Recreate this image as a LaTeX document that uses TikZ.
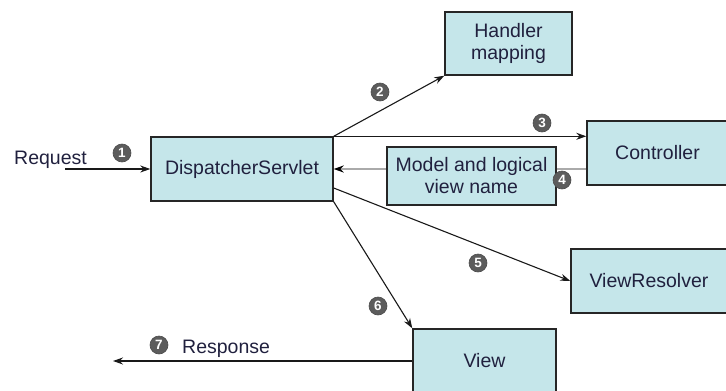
\documentclass[tikz,border=0pt]{standalone}
\usepackage{fontspec}
\setmainfont{Liberation Sans}
\usetikzlibrary{arrows.meta}
\definecolor{boxfill}{RGB}{197,230,234}
\definecolor{boxtext}{RGB}{32,32,62}
\definecolor{badgefill}{RGB}{92,92,92}
\definecolor{retline}{RGB}{170,170,170}
\begin{document}
\begin{tikzpicture}[x=1pt,y=-1pt,
  comp/.style={draw=black!85, line width=1.4pt, fill=boxfill, text=boxtext,
    inner sep=0pt, align=center, font=\fontsize{19.5}{22}\selectfont},
  lbl/.style={text=boxtext, inner sep=0pt, font=\fontsize{19.5}{22}\selectfont},
  badge/.style={circle, fill=badgefill, draw=black!70, line width=0.6pt,
    minimum size=18pt, inner sep=0pt, text=white,
    font=\fontsize{13.5}{13.5}\selectfont\bfseries},
  flow/.style={draw=black!90, line width=1.1pt, -{Stealth[length=10pt,width=7pt]}},
  back/.style={draw=retline, line width=2pt, -{Stealth[length=10pt,width=7pt,color=black]}}
]
\useasboundingbox (0,0) rectangle (726,391);
\clip (0,0) rectangle (726,391);

% components
\node[comp, minimum width=182pt, minimum height=64pt] (ds) at (242,169) {DispatcherServlet};
\node[comp, minimum width=127pt, minimum height=63pt] (hm) at (508.5,43.5) {Handler\\mapping};
\node[comp, minimum width=141pt, minimum height=64pt] (ctrl) at (657.5,153) {Controller};
\node[comp, minimum width=156pt, minimum height=64pt] (vr) at (649,281) {ViewResolver};
\node[comp, minimum width=143pt, minimum height=64pt] (view) at (484.5,361) {View};

% return path behind the model box
\draw[back] (ctrl.west |- ds.east) -- (ds.east);
\node[comp, minimum width=169pt, minimum height=58pt] (model) at (471.5,176) {Model and logical\\view name};

% free ends
\coordinate (reqstart) at (65,169);
\coordinate (respend) at (113,361);

% connectors
\draw[flow] (reqstart) -- (ds.west);
\draw[flow] (ds.north east) -- (hm.south west);
\draw[flow] (ds.north east) -- (ds.north east -| ctrl.west);
\draw[flow] ([yshift=-19pt]ds.east) -- (vr.west);
\draw[flow] (ds.south east) -- (view.north west);
\draw[flow] (view.west) -- (respend);

% labels
\node[lbl, anchor=base west] (req) at (14,164) {Request};
\node[lbl, anchor=base west] (resp) at (182,353) {Response};

% step badges
\node[badge] (b1) at (122,153) {1};
\node[badge] (b2) at (380,92) {2};
\node[badge] (b3) at (542,123) {3};
\node[badge] (b4) at (562,180) {4};
\node[badge] (b5) at (478,263) {5};
\node[badge] (b6) at (378,306) {6};
\node[badge] (b7) at (159,345) {7};
\end{tikzpicture}
\end{document}
